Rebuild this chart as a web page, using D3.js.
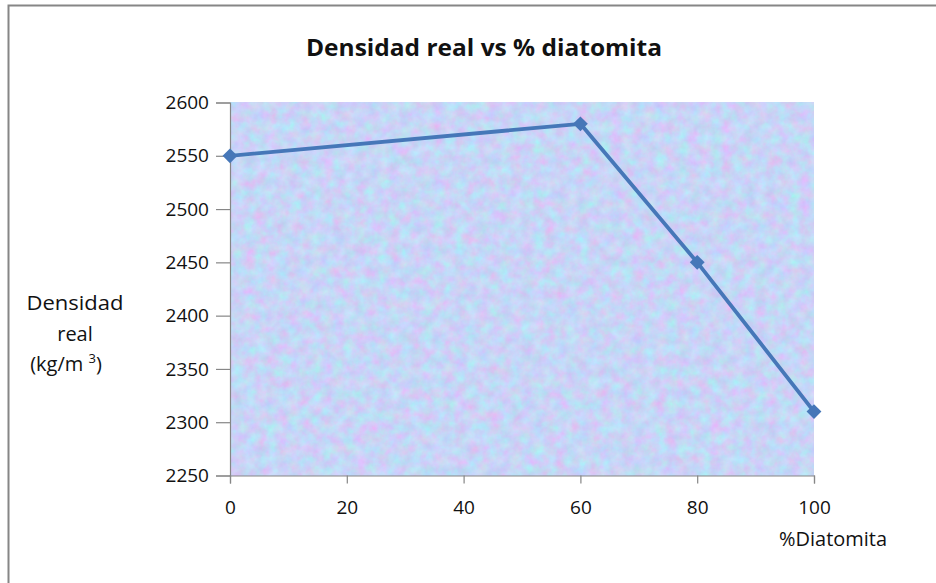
<!DOCTYPE html>
<html>
<head>
<meta charset="utf-8">
<script src="https://cdn.jsdelivr.net/npm/d3@7"></script>
<style>
  html, body { margin: 0; padding: 0; background: #fff; }
  svg { display: block; }
  text { font-family: "Open Sans", "Noto Sans", sans-serif; fill: #111; }
</style>
</head>
<body>
<svg id="chart" width="936" height="583"></svg>
<script>
// ---- data ----
const xValues = [0, 60, 80, 100];
const yValues = [2550, 2580, 2450, 2310];
const xTicks = [0, 20, 40, 60, 80, 100];
const yTicks = [2250, 2300, 2350, 2400, 2450, 2500, 2550, 2600];
const titleText = "Densidad real vs % diatomita";
const xAxisTitle = "%Diatomita";
const yAxisTitleLines = ["Densidad", "real"];

const svg = d3.select("#chart");
const W = 936, H = 583;
const plot = { left: 230, right: 814, top: 102.5, bottom: 475.5 };

// outer chart border
svg.append("rect")
  .attr("x", 8.5).attr("y", 5.5)
  .attr("width", W + 20).attr("height", H + 20)
  .attr("fill", "#fff").attr("stroke", "#868686").attr("stroke-width", 2);

// texture filter for plot background
const defs = svg.append("defs");
const f = defs.append("filter").attr("id", "tex")
  .attr("color-interpolation-filters", "sRGB")
  .attr("x", 0).attr("y", 0).attr("width", 1).attr("height", 1);
f.append("feTurbulence").attr("type", "fractalNoise")
  .attr("baseFrequency", "0.09").attr("numOctaves", 4).attr("seed", 11).attr("result", "n");
f.append("feColorMatrix").attr("in", "n").attr("type", "matrix")
  .attr("values", [
    "0.24 -0.12 0 0 0.72",
    "-0.12 0.22 0 0 0.785",
    "0 0 0.10 0 0.915",
    "0 0 0 0 1"].join(" "));

const x = d3.scaleLinear().domain([0, 100]).range([plot.left, plot.right]);
const y = d3.scaleLinear().domain([2250, 2600]).range([plot.bottom, plot.top]);

svg.append("rect")
  .attr("x", plot.left).attr("y", plot.top)
  .attr("width", plot.right - plot.left).attr("height", plot.bottom - plot.top)
  .attr("fill", "#cad5f5");
svg.append("rect")
  .attr("x", plot.left).attr("y", plot.top)
  .attr("width", plot.right - plot.left).attr("height", plot.bottom - plot.top)
  .attr("filter", "url(#tex)").attr("opacity", 1);

// axes
const axisColor = "#868686";
const yAxis = svg.append("g").attr("transform", `translate(${plot.left},0)`)
  .call(d3.axisLeft(y).tickValues(yTicks).tickSize(14).tickPadding(7).tickFormat(d3.format("d")));
const xAxis = svg.append("g").attr("transform", `translate(0,${plot.bottom})`)
  .call(d3.axisBottom(x).tickValues(xTicks).tickSize(8).tickPadding(17).tickFormat(d3.format("d")));
[xAxis, yAxis].forEach(g => {
  g.select(".domain").attr("stroke", axisColor).attr("stroke-width", 1.2);
  g.selectAll(".tick line").attr("stroke", axisColor).attr("stroke-width", 1.2);
  g.selectAll(".tick text").attr("font-size", 19).attr("fill", "#111")
    .attr("font-family", "'Open Sans', sans-serif");
});

// line
const lineColor = "#4677b8";
const pts = xValues.map((v, i) => [v, yValues[i]]);
svg.append("path").datum(pts)
  .attr("fill", "none").attr("stroke", lineColor).attr("stroke-width", 3.8)
  .attr("stroke-linejoin", "round")
  .attr("d", d3.line().x(d => x(d[0])).y(d => y(d[1])));
svg.selectAll("path.mk").data(pts).enter().append("path")
  .attr("class", "mk")
  .attr("transform", d => `translate(${x(d[0])},${y(d[1])})`)
  .attr("d", d3.symbol().type(d3.symbolDiamond2).size(140))
  .attr("fill", lineColor);

// title
svg.append("text").attr("x", 484).attr("y", 56).attr("text-anchor", "middle")
  .attr("font-size", 23).attr("font-weight", "bold")
  .attr("textLength", 356).attr("lengthAdjust", "spacingAndGlyphs").text(titleText);

// axis titles
svg.append("text").attr("x", 75).attr("y", 310).attr("text-anchor", "middle").attr("font-size", 20)
  .attr("textLength", 97).attr("lengthAdjust", "spacingAndGlyphs").text(yAxisTitleLines[0]);
svg.append("text").attr("x", 75).attr("y", 341).attr("text-anchor", "middle").attr("font-size", 20)
  .text(yAxisTitleLines[1]);
const yt3 = svg.append("text").attr("x", 66).attr("y", 371).attr("text-anchor", "middle").attr("font-size", 20);
yt3.append("tspan").text("(kg/m ");
yt3.append("tspan").attr("font-size", 13).attr("dy", -8).text("3");
yt3.append("tspan").attr("dy", 8).text(")");

svg.append("text").attr("x", 833).attr("y", 546).attr("text-anchor", "middle")
  .attr("font-size", 20).attr("textLength", 108).attr("lengthAdjust", "spacingAndGlyphs").text(xAxisTitle);
</script>
</body>
</html>
